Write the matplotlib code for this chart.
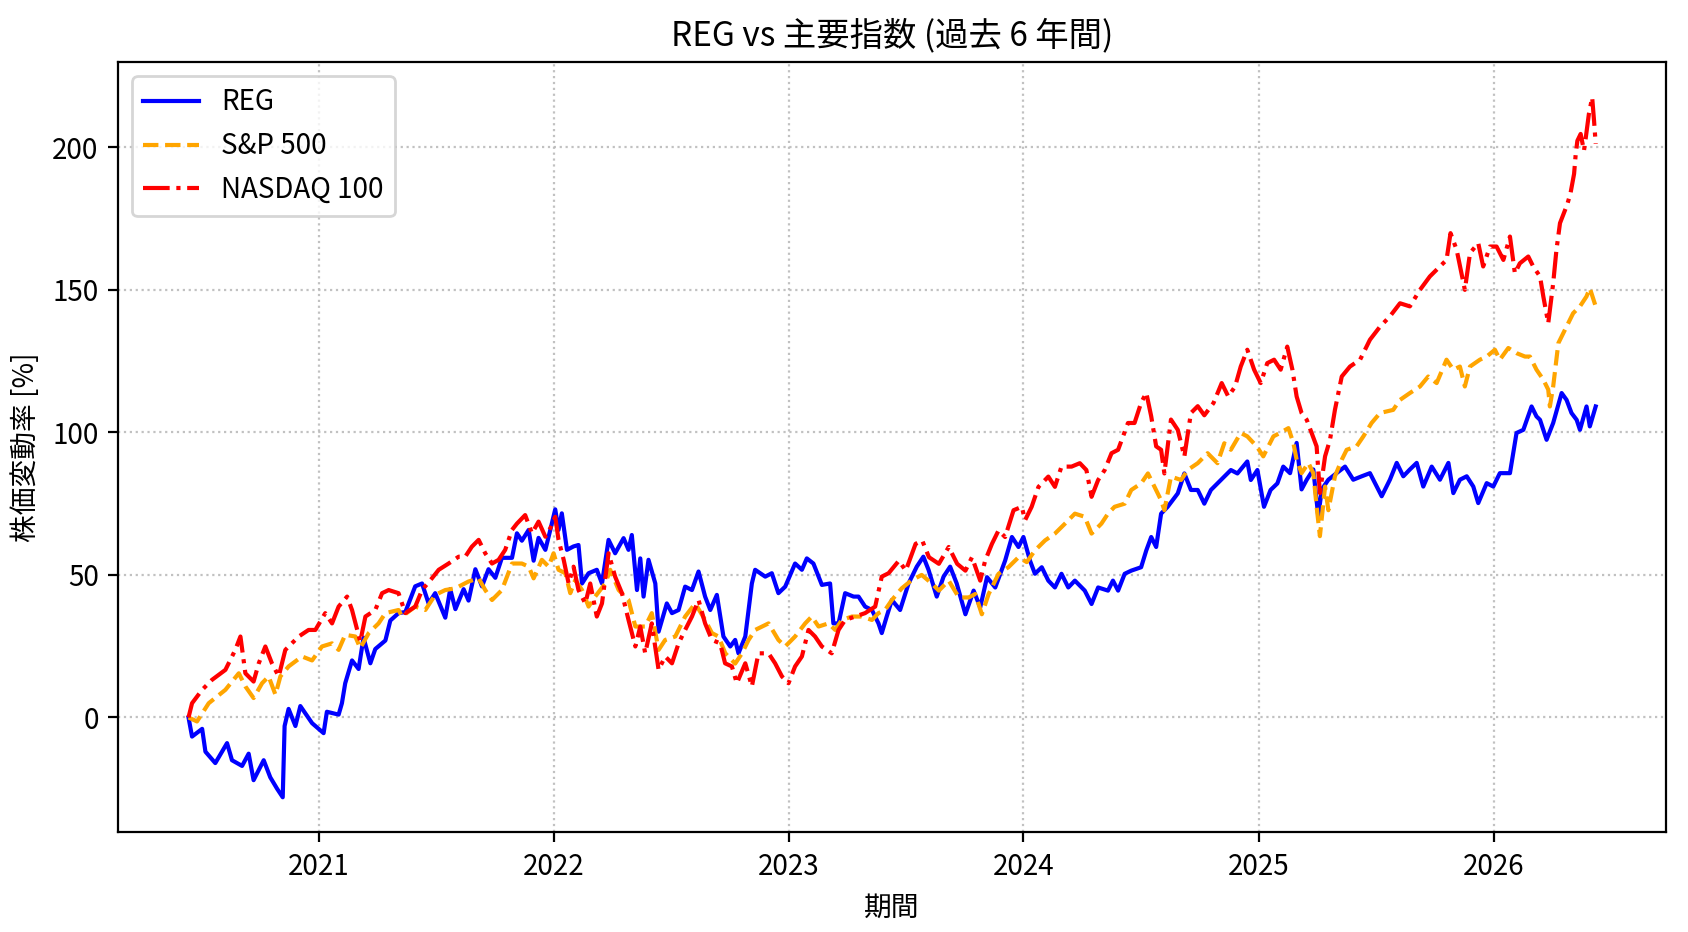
import numpy as np
import pandas as pd
import matplotlib
matplotlib.use('Agg')
import matplotlib.pyplot as plt
import matplotlib.dates as mdates

plt.rcParams['font.family'] = ['Noto Sans CJK JP', 'DejaVu Sans']

# time positions are in decimal years
reg_t = [2020.446, 2020.461, 2020.504, 2020.518, 2020.560, 2020.610, 2020.631, 2020.674, 2020.702, 2020.723,
         2020.766, 2020.794, 2020.823, 2020.847, 2020.855, 2020.872, 2020.901, 2020.922, 2020.972, 2021.021,
         2021.035, 2021.085, 2021.099, 2021.113, 2021.142, 2021.170, 2021.191, 2021.220, 2021.241, 2021.284,
         2021.305, 2021.340, 2021.369, 2021.411, 2021.440, 2021.468, 2021.496, 2021.539, 2021.560, 2021.582,
         2021.617, 2021.638, 2021.667, 2021.695, 2021.723, 2021.752, 2021.780, 2021.823, 2021.844, 2021.865,
         2021.894, 2021.915, 2021.936, 2021.965, 2021.986, 2022.007, 2022.021, 2022.035, 2022.057, 2022.085,
         2022.106, 2022.121, 2022.149, 2022.184, 2022.206, 2022.234, 2022.262, 2022.298, 2022.319, 2022.333,
         2022.355, 2022.369, 2022.383, 2022.404, 2022.433, 2022.447, 2022.482, 2022.504, 2022.532, 2022.560,
         2022.589, 2022.617, 2022.645, 2022.667, 2022.695, 2022.723, 2022.752, 2022.773, 2022.787, 2022.816,
         2022.844, 2022.858, 2022.901, 2022.929, 2022.957, 2022.986, 2023.028, 2023.057, 2023.078, 2023.106,
         2023.142, 2023.177, 2023.191, 2023.213, 2023.241, 2023.277, 2023.298, 2023.326, 2023.355, 2023.383,
         2023.397, 2023.418, 2023.440, 2023.475, 2023.511, 2023.546, 2023.574, 2023.596, 2023.631, 2023.660,
         2023.688, 2023.716, 2023.753, 2023.788, 2023.816, 2023.845, 2023.880, 2023.922, 2023.951, 2023.979,
         2024.000, 2024.028, 2024.049, 2024.078, 2024.106, 2024.134, 2024.162, 2024.191, 2024.219, 2024.261,
         2024.290, 2024.318, 2024.360, 2024.381, 2024.403, 2024.431, 2024.459, 2024.501, 2024.523, 2024.544,
         2024.565, 2024.586, 2024.614, 2024.657, 2024.685, 2024.713, 2024.742, 2024.770, 2024.798, 2024.826,
         2024.855, 2024.883, 2024.911, 2024.953, 2024.968, 2024.996, 2025.024, 2025.052, 2025.081, 2025.106,
         2025.135, 2025.163, 2025.184, 2025.206, 2025.234, 2025.255, 2025.270, 2025.298, 2025.333, 2025.369,
         2025.404, 2025.440, 2025.475, 2025.525, 2025.560, 2025.589, 2025.617, 2025.645, 2025.674, 2025.702,
         2025.738, 2025.773, 2025.809, 2025.830, 2025.858, 2025.887, 2025.915, 2025.936, 2025.972, 2026.000,
         2026.028, 2026.071, 2026.099, 2026.128, 2026.163, 2026.184, 2026.199, 2026.227, 2026.255, 2026.291,
         2026.312, 2026.333, 2026.355, 2026.369, 2026.397, 2026.411, 2026.436]
reg_v = [0, -6.7, -4, -12, -16, -9, -15, -17, -12.7, -22,
         -15, -21, -25, -28, -3, 3, -3, 4, -2, -5.5,
         2, 1, 5, 12, 20, 17, 28, 19, 24, 27,
         34, 36.6, 37, 46, 47, 40, 43.6, 35, 45, 38,
         45, 41, 52, 46, 52, 49, 56, 56, 64.6, 62,
         65.8, 55, 63, 58.8, 65.8, 73, 65.8, 71.6, 58.8, 60,
         60.5, 47, 50.6, 51.8, 47, 62.3, 57.6, 62.9, 58.8, 64,
         44.7, 55.8, 42.4, 55.3, 47, 30.1, 40, 36.6, 37.7, 45.9,
         44.7, 51.2, 42.4, 37.7, 43, 28.4, 24.9, 27.2, 22.5, 28.4,
         47, 51.8, 49.4, 50.6, 43.6, 45.9, 54, 51.8, 55.8, 54,
         46.5, 47, 33, 33, 43.6, 42.4, 42.4, 38.9, 37.7, 33,
         29.6, 35.4, 41.2, 37.7, 47, 52.9, 56.4, 51.8, 42.4, 49.4,
         52.9, 47, 36.2, 44.5, 38.6, 49.2, 45.6, 55, 63.3, 59.8,
         63.3, 55, 50.4, 52.7, 48, 45.6, 50.4, 45.6, 48, 44.5,
         39.8, 45.6, 44.5, 48, 44.5, 50.4, 51.5, 52.7, 58.6, 63.3,
         59.8, 71.5, 73.9, 78.6, 85.6, 79.8, 79.8, 75, 79.8, 82.1,
         84.5, 86.8, 85.6, 89.8, 83.3, 86.8, 73.9, 79.8, 82.1, 88,
         85.7, 96.3, 80, 83.4, 87, 70.6, 80, 83.4, 85.7, 88,
         83.4, 84.6, 85.7, 77.6, 83.4, 89.3, 84.6, 87, 89.3, 81,
         88, 83.4, 89.3, 78.7, 83.4, 84.6, 81, 75.2, 82.2, 81,
         85.7, 85.7, 99.8, 100.9, 109.1, 105.6, 104.4, 97.4, 103.3, 113.8,
         111.4, 106.8, 104.4, 100.9, 109.1, 102.1, 109.1]

spx_t = [2020.446, 2020.482, 2020.532, 2020.603, 2020.660, 2020.688, 2020.723, 2020.759, 2020.787, 2020.816,
         2020.837, 2020.872, 2020.929, 2020.972, 2021.014, 2021.057, 2021.085, 2021.113, 2021.156, 2021.177,
         2021.213, 2021.255, 2021.284, 2021.340, 2021.355, 2021.411, 2021.454, 2021.496, 2021.539, 2021.582,
         2021.638, 2021.681, 2021.709, 2021.738, 2021.780, 2021.823, 2021.865, 2021.894, 2021.915, 2021.950,
         2021.979, 2022.000, 2022.021, 2022.050, 2022.071, 2022.092, 2022.121, 2022.149, 2022.177, 2022.220,
         2022.241, 2022.277, 2022.319, 2022.348, 2022.390, 2022.418, 2022.447, 2022.475, 2022.518, 2022.560,
         2022.603, 2022.645, 2022.674, 2022.702, 2022.731, 2022.773, 2022.802, 2022.830, 2022.858, 2022.915,
         2022.957, 2022.986, 2023.028, 2023.071, 2023.099, 2023.128, 2023.170, 2023.199, 2023.227, 2023.270,
         2023.312, 2023.355, 2023.383, 2023.411, 2023.440, 2023.482, 2023.525, 2023.567, 2023.610, 2023.640,
         2023.682, 2023.725, 2023.767, 2023.795, 2023.823, 2023.852, 2023.894, 2023.936, 2023.979, 2024.014,
         2024.049, 2024.092, 2024.134, 2024.177, 2024.219, 2024.261, 2024.290, 2024.332, 2024.360, 2024.388,
         2024.431, 2024.459, 2024.501, 2024.530, 2024.558, 2024.586, 2024.600, 2024.628, 2024.671, 2024.699,
         2024.742, 2024.784, 2024.826, 2024.855, 2024.883, 2024.925, 2024.953, 2024.993, 2025.021, 2025.064,
         2025.092, 2025.128, 2025.149, 2025.163, 2025.184, 2025.213, 2025.234, 2025.248, 2025.262, 2025.284,
         2025.298, 2025.326, 2025.355, 2025.376, 2025.418, 2025.447, 2025.482, 2025.518, 2025.574, 2025.603,
         2025.645, 2025.688, 2025.723, 2025.759, 2025.801, 2025.830, 2025.858, 2025.879, 2025.901, 2025.943,
         2025.972, 2026.007, 2026.028, 2026.064, 2026.099, 2026.135, 2026.156, 2026.184, 2026.213, 2026.234,
         2026.241, 2026.255, 2026.277, 2026.305, 2026.340, 2026.369, 2026.397, 2026.411, 2026.436]
spx_v = [0, -1.4, 5, 9.7, 15.5, 10.9, 6.8, 12, 14.4, 8,
         14.4, 17.9, 21.4, 20, 24.9, 26, 23.7, 29, 28.4, 24.3,
         29.6, 33, 36.6, 37.7, 35.4, 38.9, 37.7, 43, 44.7, 45.3,
         47.7, 48.8, 44.7, 41.2, 44.7, 54, 54, 52.9, 48.8, 55.3,
         52.9, 57.6, 51.8, 50.6, 43.6, 48.2, 44.7, 38.9, 42.4, 47,
         51.8, 44.7, 41.2, 31.9, 31.9, 36.6, 23.7, 27.2, 28.4, 35.4,
         40, 34.2, 29.6, 28.4, 22.5, 18.9, 22.5, 27.2, 30.7, 33,
         27.2, 24.9, 28.4, 33, 35.4, 31.9, 33, 30.7, 34.2, 35.4,
         35.4, 34.2, 36.6, 37.7, 41.2, 45.3, 48.2, 50, 47, 44.5,
         48, 42.1, 42.1, 43.3, 36.2, 43.3, 50.4, 52.7, 56.2, 54.5,
         58.6, 62.1, 64.5, 68, 71.5, 70.4, 64.5, 68, 71.5, 73.9,
         75, 79.8, 82.1, 85.6, 80.9, 76.2, 72.7, 84.5, 83.3, 86.8,
         89.2, 92.7, 89.2, 96.2, 93.9, 99.8, 98.6, 95.1, 91.6, 98.6,
         99.8, 101.5, 96.3, 90.4, 85.7, 89.3, 85.7, 74, 63.6, 81,
         72.7, 84.6, 90.4, 93.9, 95.1, 98.6, 103.3, 106.8, 107.9, 111.4,
         113.8, 116.1, 119.6, 117.3, 125.5, 122, 123.1, 116.1, 123.1, 125.5,
         126.6, 129, 125.5, 129.6, 127.8, 126.6, 126.6, 122, 118.5, 115,
         109.1, 116.1, 131.3, 136, 141.8, 144.2, 147.7, 150.6, 144.2]

ndx_t = [2020.446, 2020.461, 2020.504, 2020.546, 2020.603, 2020.645, 2020.667, 2020.688, 2020.723, 2020.745,
         2020.773, 2020.801, 2020.830, 2020.858, 2020.915, 2020.957, 2020.986, 2021.028, 2021.057, 2021.085,
         2021.121, 2021.142, 2021.177, 2021.199, 2021.241, 2021.270, 2021.298, 2021.340, 2021.369, 2021.411,
         2021.440, 2021.482, 2021.511, 2021.553, 2021.596, 2021.624, 2021.652, 2021.681, 2021.709, 2021.738,
         2021.766, 2021.794, 2021.823, 2021.844, 2021.879, 2021.908, 2021.936, 2021.965, 2021.986, 2022.007,
         2022.021, 2022.043, 2022.064, 2022.085, 2022.106, 2022.135, 2022.156, 2022.184, 2022.206, 2022.234,
         2022.262, 2022.291, 2022.319, 2022.348, 2022.369, 2022.390, 2022.418, 2022.447, 2022.475, 2022.504,
         2022.532, 2022.560, 2022.589, 2022.617, 2022.645, 2022.674, 2022.709, 2022.730, 2022.759, 2022.780,
         2022.816, 2022.844, 2022.872, 2022.915, 2022.943, 2022.972, 2023.000, 2023.028, 2023.057, 2023.085,
         2023.113, 2023.142, 2023.184, 2023.213, 2023.241, 2023.284, 2023.326, 2023.369, 2023.397, 2023.426,
         2023.470, 2023.499, 2023.541, 2023.569, 2023.598, 2023.640, 2023.682, 2023.718, 2023.753, 2023.781,
         2023.816, 2023.837, 2023.866, 2023.894, 2023.922, 2023.958, 2023.993, 2024.007, 2024.035, 2024.064,
         2024.106, 2024.134, 2024.162, 2024.205, 2024.240, 2024.268, 2024.290, 2024.318, 2024.346, 2024.375,
         2024.403, 2024.445, 2024.473, 2024.501, 2024.523, 2024.544, 2024.565, 2024.586, 2024.600, 2024.628,
         2024.657, 2024.685, 2024.713, 2024.742, 2024.770, 2024.809, 2024.844, 2024.872, 2024.901, 2024.925,
         2024.953, 2024.982, 2025.010, 2025.038, 2025.067, 2025.095, 2025.123, 2025.145, 2025.163, 2025.184,
         2025.206, 2025.227, 2025.248, 2025.262, 2025.284, 2025.305, 2025.326, 2025.355, 2025.390, 2025.433,
         2025.475, 2025.518, 2025.560, 2025.603, 2025.645, 2025.688, 2025.730, 2025.773, 2025.801, 2025.818,
         2025.844, 2025.879, 2025.901, 2025.936, 2025.957, 2025.986, 2026.014, 2026.043, 2026.071, 2026.092,
         2026.113, 2026.149, 2026.170, 2026.199, 2026.213, 2026.234, 2026.255, 2026.269, 2026.284, 2026.294,
         2026.315, 2026.329, 2026.344, 2026.351, 2026.358, 2026.372, 2026.386, 2026.393, 2026.407, 2026.421,
         2026.429, 2026.436]
ndx_v = [0, 5, 9.7, 13.2, 16.7, 23.7, 28.4, 15.5, 12.6, 19,
         24.9, 19, 14.4, 23.7, 28.4, 30.7, 30.7, 36.6, 33, 38.9,
         42.4, 37.7, 26.6, 35.4, 37.7, 43.6, 44.7, 43.6, 36.6, 38.9,
         44.7, 48.8, 51.8, 54, 56.4, 56.4, 59.9, 62.3, 57.6, 54,
         55.3, 58.8, 65.8, 68, 71, 64.6, 68.7, 63.4, 66.4, 70.4,
         62.3, 55.3, 47, 52.9, 44.7, 40, 47, 35.4, 40, 57.6,
         49.4, 43.6, 34.2, 24.9, 31.9, 22.5, 33, 16.7, 21.4, 19,
         26, 30.7, 35.4, 41.2, 33, 27.2, 26, 19, 17.9, 12,
         19, 10.9, 22.5, 22.5, 19, 14.4, 12, 17.9, 21.4, 30.7,
         28.4, 24.9, 22.5, 30.7, 34.2, 35.4, 36.6, 38.9, 49.4, 50.6,
         55, 51.5, 60.9, 62.1, 56.2, 53.9, 59.8, 53.9, 51.5, 56.2,
         48, 55, 60.9, 65.6, 63.3, 72.7, 73.9, 69.2, 73.9, 80.9,
         84.5, 80.9, 88, 88, 89.2, 86.8, 77.4, 83.3, 86.8, 92.7,
         93.9, 103.3, 103.3, 110.4, 113.9, 105.6, 95.1, 93.9, 85.6, 104.5,
         100.9, 91.5, 106.8, 109.2, 106, 110.3, 117.3, 112.6, 116.1, 123.1,
         129, 122, 117.3, 124.3, 125.5, 122, 130.1, 122, 112.6, 106.8,
         104.4, 99.8, 95.1, 78.7, 91.6, 97.4, 107.9, 119.6, 123.1, 125.5,
         132.5, 137.1, 140.7, 145.3, 144.2, 150, 154.7, 158.2, 160.5, 169.9,
         164.1, 150, 162.9, 166.4, 158.2, 165.2, 165.2, 160.5, 168.7, 155.8,
         159.3, 161.7, 158.2, 154.7, 147.7, 138.3, 152.3, 164.1, 173.4, 175.5,
         180, 184, 190.7, 197.7, 202.3, 204.7, 198.8, 202.9, 211.7, 217.5,
         209.3, 201.2]


def to_dates(t):
    t = np.array(t)
    return pd.to_datetime('2020-01-01') + pd.to_timedelta((t - 2020) * 365.25, unit='D')


fig, ax = plt.subplots(figsize=(8.44, 4.66))
fig.subplots_adjust(left=0.070, right=0.987, top=0.933, bottom=0.107)

ax.plot(to_dates(reg_t), reg_v, color='blue', linestyle='-', linewidth=1.5, label='REG')
ax.plot(to_dates(spx_t), spx_v, color='orange', linestyle='--', linewidth=1.5, label='S&P 500')
ax.plot(to_dates(ndx_t), ndx_v, color='red', linestyle='-.', linewidth=1.5, label='NASDAQ 100')

ax.xaxis.set_major_locator(mdates.YearLocator())
ax.xaxis.set_major_formatter(mdates.DateFormatter('%Y'))
ax.set_yticks([0, 50, 100, 150, 200])

ax.set_title('REG vs 主要指数 (過去 6 年間)')
ax.set_xlabel('期間')
ax.set_ylabel('株価変動率 [%]')
ax.grid(True, linestyle=':', color='#bbbbbb', alpha=0.9)
ax.legend(loc='upper left')

fig.savefig('out.png', dpi=200)
